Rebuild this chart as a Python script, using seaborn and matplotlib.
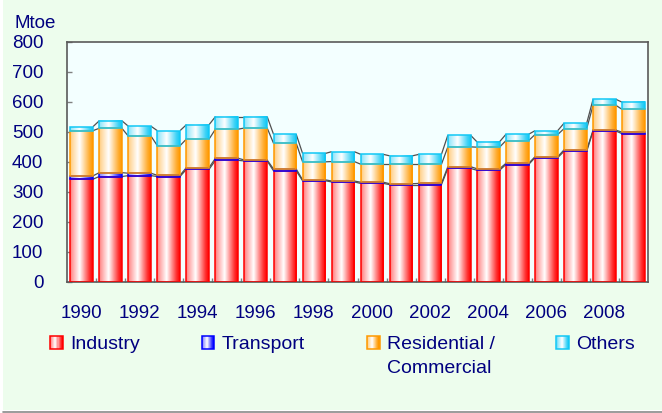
import numpy as np
import pandas as pd
import matplotlib
matplotlib.use("Agg")
import matplotlib.pyplot as plt
import seaborn as sns
from matplotlib.patches import Rectangle
from matplotlib.lines import Line2D
from matplotlib.legend_handler import HandlerBase
from matplotlib.colors import to_rgb

# Final energy consumption by sector (Mtoe)
years = [str(y) for y in range(1990, 2010)]
industry = [342, 351, 354, 351, 375, 405, 403, 370, 337, 333,
            328, 324, 324, 378, 372, 391, 414, 435, 503, 494]
transport = [11, 13, 8, 4, 6, 7, 3, 6, 3, 3,
             4, 3, 4, 6, 5, 4, 3, 5, 3, 5]
residential = [151, 148, 124, 99, 95, 97, 107, 86, 60, 65,
               60, 65, 64, 66, 72, 76, 74, 71, 83, 76]
others = [13, 25, 33, 50, 48, 42, 38, 30, 28, 33,
          33, 28, 33, 39, 18, 21, 13, 18, 20, 24]

sector_labels = ["Industry", "Transport", "Residential /\nCommercial", "Others"]
sector_colors = ["#FF0000", "#0000FF", "#FF9900", "#11C8F5"]
y_ticks = [0, 100, 200, 300, 400, 500, 600, 700, 800]
unit_label = "Mtoe"

NAVY = "#000080"
W, H = 662, 413
LEG_FS = 14

sns.set_style("white")
plt.rcParams["font.family"] = ["Liberation Sans", "DejaVu Sans"]
plt.rcParams["font.size"] = 13.5


def gradient_rgb(color, n=64):
    """Horizontal shading: tinted left edge, white core, saturated right edge."""
    t = np.linspace(0, 1, n)
    w = np.interp(t, [0, 0.08, 0.42, 0.85, 1.0], [0.45, 0.6, 1.0, 0.2, 0.0])
    c = np.array(to_rgb(color))
    return c[None, :] * (1 - w[:, None]) + w[:, None]


fig = plt.figure(figsize=(W / 100, H / 100), dpi=100)
fig.patch.set_facecolor("white")
fig.add_artist(Rectangle((3 / W, 1 - 410 / H), (W - 3) / W, 410 / H,
                         transform=fig.transFigure, facecolor="#EDFDED",
                         edgecolor="none", zorder=-10))
fig.add_artist(Line2D([3 / W, 1], [1 - 411.5 / H] * 2, transform=fig.transFigure,
                      color="#8A8A8A", lw=1.2))

ax = fig.add_axes([67 / W, 1 - 281.7 / H, 581 / W, 239.7 / H])
ax.set_facecolor("#F3FFFF")

series = [industry, transport, residential, others]
layer_patches = []
for vals, col in zip(series, sector_colors):
    n_before = len(ax.patches)
    sns.barplot(x=years, y=vals, order=years, color=col, width=0.78,
                errorbar=None, saturation=1, ax=ax)
    layer_patches.append(ax.patches[n_before:])

# stack the layers and give each bar its shaded fill
bottoms = np.zeros(len(years))
level_tops = []
for patches, vals, col in zip(layer_patches, series, sector_colors):
    grad = gradient_rgb(col)[None, :, :]
    for p, b, v in zip(patches, bottoms, vals):
        p.set_y(b)
        p.set_height(v)
        p.set_facecolor("none")
        p.set_edgecolor(col)
        p.set_linewidth(1.1)
        p.set_zorder(3)
        x0 = p.get_x()
        ax.imshow(grad, extent=[x0, x0 + p.get_width(), b, b + v],
                  aspect="auto", interpolation="bilinear", zorder=2)
    bottoms = bottoms + np.array(vals)
    level_tops.append((patches, bottoms.copy()))

# series lines joining the segment tops of neighbouring bars
for patches, tops in level_tops:
    for i in range(len(patches) - 1):
        p0, p1 = patches[i], patches[i + 1]
        ax.plot([p0.get_x() + p0.get_width(), p1.get_x()], [tops[i], tops[i + 1]],
                color="#505050", lw=0.9, zorder=2.5, solid_capstyle="butt")

ax.set_xlim(-0.5, len(years) - 0.5)
ax.set_ylim(0, 800)
ax.set_yticks(y_ticks)
ax.set_yticklabels([str(v) for v in y_ticks])
ax.set_xticks(range(len(years)))
ax.set_xticklabels([y if int(y) % 2 == 0 else "" for y in years])
ax.set_xticks(np.arange(0.5, len(years) - 1, 1.0), minor=True)
ax.set_xlabel("")
ax.set_ylabel("")

ax.tick_params(axis="y", direction="in", length=3.6, width=1, color="#808080",
               pad=17, labelsize=13.5, labelcolor=NAVY, left=True)
ax.tick_params(axis="x", which="major", length=0, pad=16.5, labelsize=13.5,
               labelcolor=NAVY)
ax.tick_params(axis="x", which="minor", direction="in", length=3, width=1,
               color="#808080", bottom=True)
for s in ax.spines.values():
    s.set_visible(True)
    s.set_color("#5A5A5A")
    s.set_linewidth(1.2)

fig.text(14 / W, 1 - 23 / H, unit_label, ha="left", va="center", color=NAVY,
         fontsize=13.5)


class GradientKey(HandlerBase):
    def create_artists(self, legend, orig_handle, xdescent, ydescent, width,
                       height, fontsize, trans):
        col = orig_handle.get_edgecolor()
        n = 12
        shades = gradient_rgb(col, n)
        arts = [Rectangle((-xdescent + width * i / n, -ydescent), width / n, height,
                          facecolor=shades[i], edgecolor="none", transform=trans)
                for i in range(n)]
        arts.append(Rectangle((-xdescent, -ydescent), width, height,
                              facecolor="none", edgecolor=col, lw=1.1,
                              transform=trans))
        return arts


handles = [Rectangle((0, 0), 1, 1, facecolor="none", edgecolor=c) for c in sector_colors]
first_lines = [lab.split("\n")[0] for lab in sector_labels]
leg = fig.legend(handles, first_lines, loc="upper left",
                 bbox_to_anchor=(50 / W, 1 - 336 / H), bbox_transform=fig.transFigure,
                 ncol=4, frameon=False, fontsize=LEG_FS, handlelength=0.66,
                 handleheight=0.68, handletextpad=0.36, columnspacing=3.19,
                 borderpad=0, borderaxespad=0, labelcolor=NAVY,
                 handler_map={Rectangle: GradientKey()})

fig.canvas.draw()
for lab, txt in zip(sector_labels, leg.get_texts()):
    extra = lab.split("\n")[1:]
    if extra:
        bb = txt.get_window_extent()
        fig.text(bb.x0 / W, (bb.y1 - 24) / H, "\n".join(extra), ha="left",
                 va="top", color=NAVY, fontsize=LEG_FS)

fig.savefig("out.png", dpi=100)
